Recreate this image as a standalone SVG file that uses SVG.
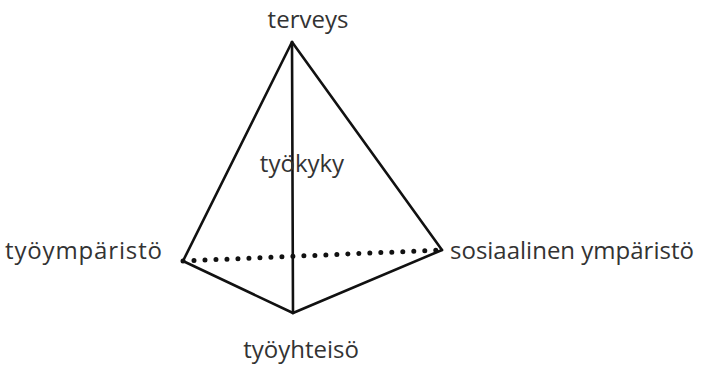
<svg xmlns="http://www.w3.org/2000/svg" width="704" height="366" viewBox="0 0 704 366">
<style>
.e{stroke:#111;stroke-width:2.6;fill:none;stroke-linejoin:round;stroke-linecap:round}
.d{stroke:#111;stroke-width:5;fill:none;stroke-dasharray:0 11;stroke-linecap:round}
.t{font-family:"Open Sans","Noto Sans",sans-serif;font-size:24px;fill:#333}
</style>
<rect width="704" height="366" fill="#fff"/>
<g id="connectors">
<line class="e" x1="292" y1="42" x2="183" y2="261"/>
<line class="e" x1="292" y1="42" x2="442" y2="250"/>
<line class="e" x1="292" y1="42" x2="293" y2="313"/>
<line class="e" x1="183" y1="261" x2="293" y2="313"/>
<line class="e" x1="442" y1="250" x2="293" y2="313"/>
<line class="d" x1="183" y1="261" x2="442" y2="250"/>
</g>
<g id="terveys"><text class="t" x="308" y="28" text-anchor="middle">terveys</text></g>
<g id="tyokyky"><text class="t" x="302" y="172" text-anchor="middle">työkyky</text></g>
<g id="tyoymparisto"><text class="t" x="5" y="259" textLength="157" lengthAdjust="spacing">työympäristö</text></g>
<g id="sosiaalinen"><text class="t" x="450" y="259">sosiaalinen ympäristö</text></g>
<g id="tyoyhteiso"><text class="t" x="301" y="358" text-anchor="middle">työyhteisö</text></g>
</svg>
